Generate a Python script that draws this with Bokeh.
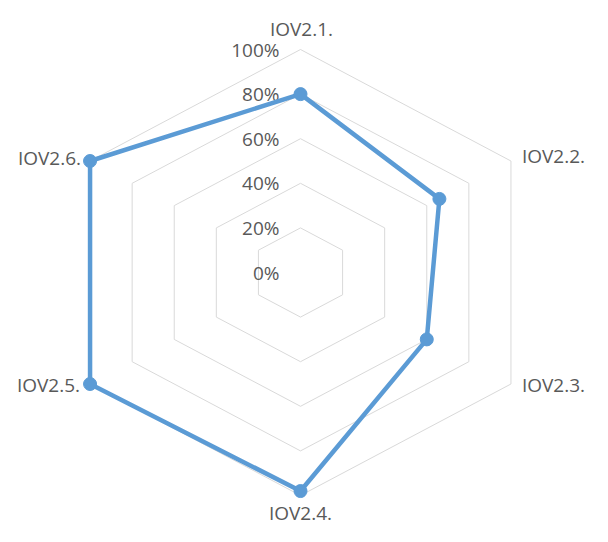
import numpy as np
from bokeh.plotting import figure
from bokeh.models import ColumnDataSource, Range1d
from bokeh.core.properties import value
from bokeh.embed import file_html
from bokeh.resources import INLINE

categories = ["IOV2.1.", "IOV2.2.", "IOV2.3.", "IOV2.4.", "IOV2.5.", "IOV2.6."]
values = [0.80, 0.66, 0.60, 0.98, 1.00, 1.00]
ring_levels = [0.2, 0.4, 0.6, 0.8, 1.0]
tick_levels = [0.0, 0.2, 0.4, 0.6, 0.8, 1.0]
tick_labels = ["0%", "20%", "40%", "60%", "80%", "100%"]

W, H = 592, 526
cx_px, cy_px = 300, 272        # centre inside the canvas (px from left / top)
rx_px, ry_px = 243.0, 223.0    # pixels per 100% horizontally / vertically

p = figure(width=W, height=H, output_backend="svg", toolbar_location=None,
           min_border=0, x_range=Range1d(-cx_px / rx_px, (W - cx_px) / rx_px),
           y_range=Range1d(-(H - cy_px) / ry_px, cy_px / ry_px))
p.axis.visible = False
p.grid.visible = False
p.outline_line_color = None
p.background_fill_color = "white"

n = len(categories)
angles = np.pi / 2 - np.arange(n) * 2 * np.pi / n
ca, sa = np.cos(angles), np.sin(angles)

# grid rings
xs = [list(np.append(ca * r, ca[0] * r)) for r in ring_levels]
ys = [list(np.append(sa * r, sa[0] * r)) for r in ring_levels]
p.multi_line(xs, ys, line_color="#D9D9D9", line_width=1)

FONT = value("Open Sans")
FS = "19px"
TC = "#595959"

# tick labels
p.text(x=[0] * len(tick_levels), y=tick_levels, text=tick_labels,
       text_align="right", text_baseline="middle", x_offset=-21,
       text_font=FONT, text_font_size=FS, text_color=TC)

# data
v = np.array(values)
dx = list(np.append(ca * v, ca[0] * v[0]))
dy = list(np.append(sa * v, sa[0] * v[0]))
p.line(dx, dy, line_color="#5B9BD5", line_width=4.5, line_join="round")
p.scatter(list(ca * v), list(sa * v), size=13, fill_color="#5B9BD5",
          line_color="#5B9BD5")

# category labels
aligns = ["center", "left", "left", "center", "right", "right"]
xoff = [1, 11, 11, 0, -10, -9]
yoff = [-21, -5, 1, 17, 1, -3]
src = ColumnDataSource(dict(x=list(ca), y=list(sa), t=categories, a=aligns,
                            xo=xoff, yo=yoff))
p.text(x="x", y="y", text="t", text_align="a", text_baseline="middle",
       x_offset="xo", y_offset="yo", source=src,
       text_font=FONT, text_font_size=FS, text_color=TC)

open("out.html", "w").write(file_html(p, INLINE))
